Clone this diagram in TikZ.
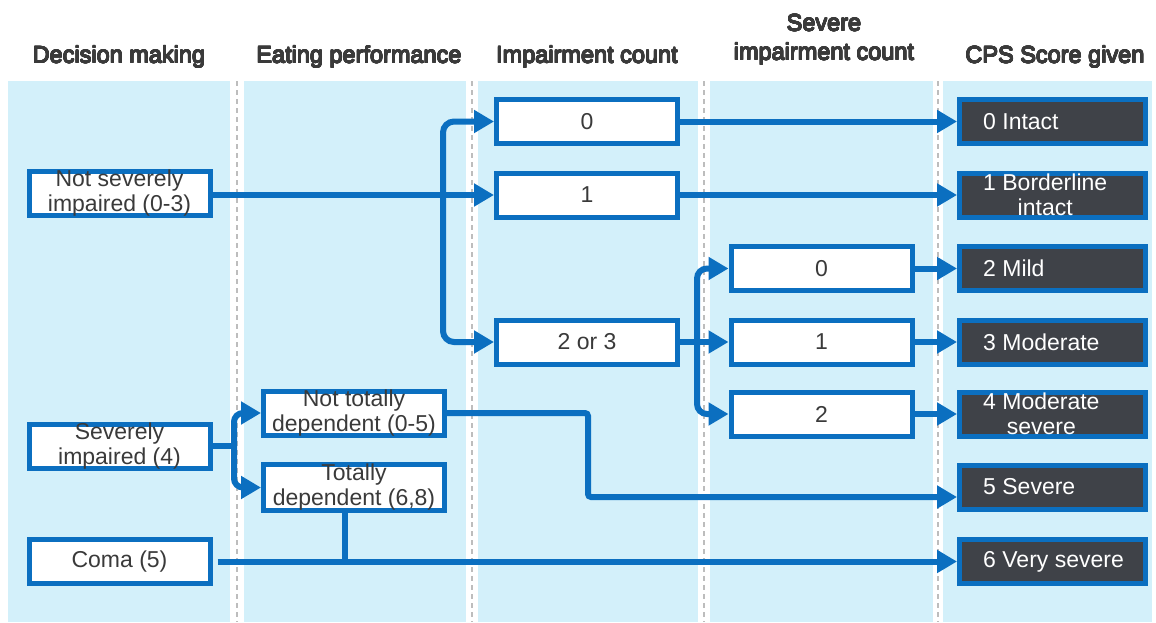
\documentclass[tikz,border=0pt]{standalone}
\usepackage{fontspec}
\setmainfont{Liberation Sans}
\usepackage{contour}
\contourlength{0.45pt}
\contournumber{16}
\usetikzlibrary{arrows.meta,calc}
\definecolor{flowblue}{HTML}{0B6FC0}
\definecolor{lane}{HTML}{D3F0FA}
\definecolor{scorebox}{HTML}{3F4248}
\definecolor{inktext}{HTML}{3A3A3A}
\definecolor{sepgrey}{HTML}{BDBDBD}
% slightly heavier header lettering
\newcommand{\hdrtext}[1]{\contour{inktext}{#1}}

\begin{document}
\begin{tikzpicture}[x=1pt,y=-1pt,
  lanebg/.style={fill=lane,draw=none},
  sepline/.style={draw=sepgrey,line width=2pt,dash pattern=on 5pt off 4pt},
  hdr/.style={font=\fontsize{23.5}{30}\selectfont,text=inktext,anchor=base,inner sep=0pt},
  wbox/.style={draw=flowblue,line width=5pt,fill=white,minimum width=181pt,minimum height=44pt,inner sep=0pt,
    font=\fontsize{23}{25}\selectfont,text=inktext},
  sbox/.style={wbox,fill=scorebox,minimum width=186pt},
  wtxt/.style={font=\fontsize{23}{25}\selectfont,text=inktext,align=center,inner sep=0pt},
  stxt/.style={font=\fontsize{23}{25}\selectfont,text=white,align=center,inner sep=0pt,anchor=west},
  flow/.style={draw=flowblue,line width=6pt},
  arrow/.style={flow,-{Triangle[length=20pt,width=22pt]}},
]
\useasboundingbox (0,0) rectangle (1156,622);
\fill[white] (0,0) rectangle (1156,622);

% column lanes and separators
\fill[lanebg] (8,81) rectangle (230,622);
\fill[lanebg] (244,81) rectangle (466,622);
\fill[lanebg] (478,81) rectangle (698,622);
\fill[lanebg] (710,81) rectangle (933,622);
\fill[lanebg] (943,81) rectangle (1152,622);
\foreach \sx in {237,472,704,938}
  \draw[sepline] (\sx,81) -- (\sx,622);

% column headers
\node[hdr] (h1) at (119,63) {\hdrtext{Decision making}};
\node[hdr] (h2) at (359,63) {\hdrtext{Eating performance}};
\node[hdr] (h3) at (587,63) {\hdrtext{Impairment count}};
\node[hdr] (h4a) at (824,31) {\hdrtext{Severe}};
\node[hdr] (h4b) at (824,60) {\hdrtext{impairment count}};
\node[hdr] (h5) at (1055,63) {\hdrtext{CPS Score given}};

% decision making
\node[wbox,label={[wtxt]center:{Not severely\\impaired (0-3)}}] (ns) at (119.5,193) {};
\node[wbox,label={[wtxt]center:{Severely\\impaired (4)}}] (si) at (119.5,446) {};
\node[wbox] (coma) at (119.5,561.5) {Coma (5)};

% eating performance
\node[wbox,label={[wtxt]center:{Not totally\\dependent (0-5)}}] (ntd) at (354,413) {};
\node[wbox,minimum height=46pt,label={[wtxt]center:{Totally\\dependent (6,8)}}] (td) at (354,487.5) {};

% impairment count
\node[wbox] (i0) at (587,121.5) {0};
\node[wbox] (i1) at (587,195) {1};
\node[wbox] (i23) at (587,342) {2 or 3};

% severe impairment count
\node[wbox] (s0) at (821.5,268.5) {0};
\node[wbox] (s1) at (821.5,342) {1};
\node[wbox] (s2) at (821.5,414) {2};

% CPS scores
\node[sbox] (c0) at (1052.5,121.5) {};
\node[sbox] (c1) at (1052.5,195) {};
\node[sbox] (c2) at (1052.5,268.5) {};
\node[sbox] (c3) at (1052.5,342) {};
\node[sbox] (c4) at (1052.5,414) {};
\node[sbox] (c5) at (1052.5,487) {};
\node[sbox] (c6) at (1052.5,561.5) {};
\node[stxt] (t0) at ([xshift=26pt]c0.west) {0 Intact};
\node[stxt] (t1) at ([xshift=26pt]c1.west) {1 Borderline\\intact};
\node[stxt] (t2) at ([xshift=26pt]c2.west) {2 Mild};
\node[stxt] (t3) at ([xshift=26pt]c3.west) {3 Moderate};
\node[stxt] (t4) at ([xshift=26pt]c4.west) {4 Moderate\\severe};
\node[stxt] (t5) at ([xshift=26pt]c5.west) {5 Severe};
\node[stxt] (t6) at ([xshift=26pt]c6.west) {6 Very severe};

% junction points
\coordinate (j1) at (443,195);
\coordinate (j2) at (697,342);
\coordinate (j3) at (234,446);
\coordinate (k5) at (588,497);

% not severely impaired -> impairment count
\draw[arrow] (ns.east |- i1.west) -- (i1.west);
\draw[arrow,rounded corners=11pt] (j1) |- (i0.west);
\draw[arrow,rounded corners=11pt] (j1) |- (i23.west);

% impairment count -> scores
\draw[arrow] (i0.east) -- (c0.west);
\draw[arrow] (i1.east) -- (c1.west);

% 2 or 3 -> severe impairment count
\draw[arrow] (i23.east) -- (s1.west);
\draw[arrow,rounded corners=10pt] (j2) |- (s0.west);
\draw[arrow,rounded corners=10pt] (j2) |- (s2.west);
\draw[arrow] (s0.east) -- (c2.west);
\draw[arrow] (s1.east) -- (c3.west);
\draw[arrow] (s2.east) -- (c4.west);

% severely impaired -> eating performance
\draw[flow] (si.east) -- (j3);
\draw[arrow,rounded corners=9pt] (j3) |- (ntd.west);
\draw[arrow,rounded corners=9pt] (j3) |- (td.west);

% not totally dependent -> 5 severe
\draw[arrow,rounded corners=3pt] (ntd.east) -| (k5) -- (k5 -| c5.west);

% totally dependent and coma -> 6 very severe
\draw[flow] ([xshift=-9pt]td.south) -- ([xshift=-9pt]td.south |- coma.east);
\draw[arrow] ([xshift=5pt]coma.east) -- (c6.west);
\end{tikzpicture}
\end{document}
